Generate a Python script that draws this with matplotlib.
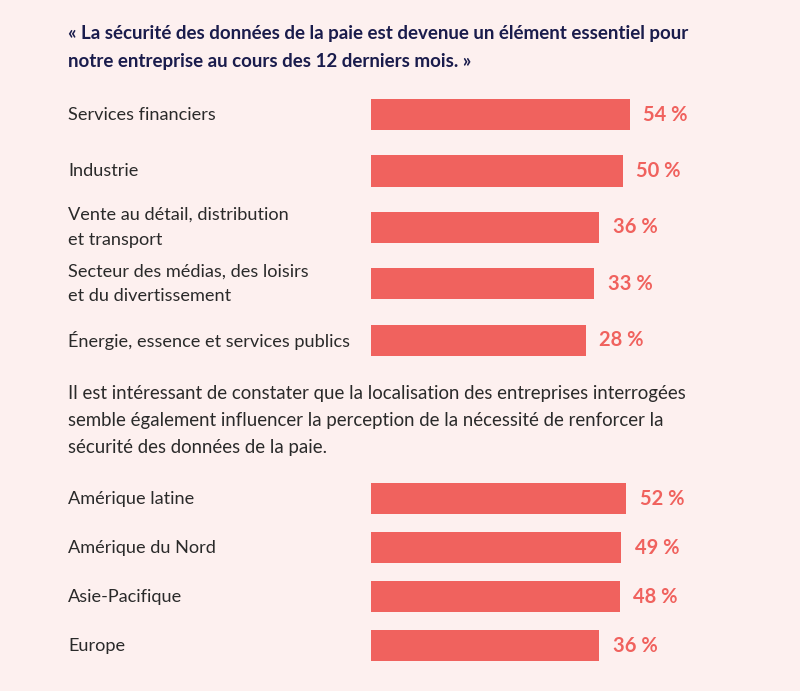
import matplotlib.pyplot as plt
from matplotlib.transforms import blended_transform_factory

plt.rcParams['font.family'] = ['Lato', 'DejaVu Sans']

sectors = ["Services financiers", "Industrie",
           "Vente au détail, distribution\net transport",
           "Secteur des médias, des loisirs\net du divertissement",
           "Énergie, essence et services publics"]
sector_vals = [54, 50, 36, 33, 28]

regions = ["Amérique latine", "Amérique du Nord", "Asie-Pacifique", "Europe"]
region_vals = [52, 49, 48, 36]

title = ("« La sécurité des données de la paie est devenue un élément essentiel pour\n"
         "notre entreprise au cours des 12 derniers mois. »")
note = ("Il est intéressant de constater que la localisation des entreprises interrogées\n"
        "semble également influencer la perception de la nécessité de renforcer la\n"
        "sécurité des données de la paie.")

BG = "#fdf0ef"
BAR = "#f0625e"
NAVY = "#1a1c4c"
GREY = "#2a2a2a"
BASE = -100   # bars are not drawn from zero in the original layout
W, H = 800, 691

fig = plt.figure(figsize=(W / 100, H / 100), dpi=100, facecolor=BG)


def make_axes(top_px, bottom_px):
    ax = fig.add_axes([371 / W, 1 - bottom_px / H, (W - 371) / W, (bottom_px - top_px) / H])
    ax.set_facecolor("none")
    ax.axis("off")
    ax.set_xlim(BASE, BASE + (W - 371) / 1.68)
    return ax


def draw(ax, labels, vals, height):
    y = list(range(len(vals)))
    ax.barh(y, [v - BASE for v in vals], left=BASE, height=height, color=BAR)
    ax.set_ylim(len(vals) - 0.5, -0.5)
    tr = blended_transform_factory(fig.transFigure, ax.transData)
    for i, (lab, v) in enumerate(zip(labels, vals)):
        ax.text(68 / W, i, lab, transform=tr, ha="left", va="center",
                fontsize=13.1, color=GREY, linespacing=1.7)
        ax.annotate(f"{v} %", (v, i), xytext=(9.5, 0), textcoords="offset points",
                    ha="left", va="center", fontsize=14.5, fontweight="bold", color=BAR)


ax1 = make_axes(86.5, 368.2)
draw(ax1, sectors, sector_vals, 31 / 56.3)

ax2 = make_axes(474.3, 670.3)
draw(ax2, regions, region_vals, 31 / 49)

fig.text(68 / W, 1 - 47.5 / H, title, ha="left", va="center", fontsize=13.5,
         fontweight="bold", color=NAVY, linespacing=1.75)
fig.text(68 / W, 1 - 420.5 / H, note, ha="left", va="center", fontsize=13.4,
         color=GREY, linespacing=1.7)

fig.savefig("out.png", dpi=100, facecolor=BG)
